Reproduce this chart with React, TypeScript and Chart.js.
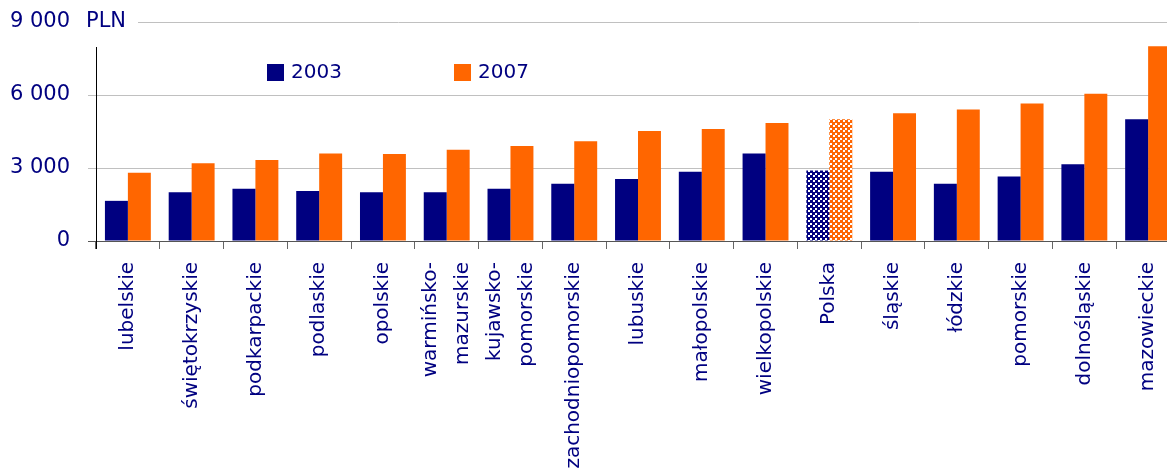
import React, { useEffect, useRef } from "react";
import { Chart, registerables } from "chart.js";

Chart.register(...registerables);

const categories: string[][] = [
  ["lubelskie"],
  ["świętokrzyskie"],
  ["podkarpackie"],
  ["podlaskie"],
  ["opolskie"],
  ["warmińsko-", "mazurskie"],
  ["kujawsko-", "pomorskie"],
  ["zachodniopomorskie"],
  ["lubuskie"],
  ["małopolskie"],
  ["wielkopolskie"],
  ["Polska"],
  ["śląskie"],
  ["łódzkie"],
  ["pomorskie"],
  ["dolnośląskie"],
  ["mazowieckie"],
];

const values2003: number[] = [1650, 2000, 2150, 2050, 2000, 2000, 2150, 2350, 2550, 2850, 3600, 2900, 2850, 2350, 2650, 3150, 5000];
const values2007: number[] = [2800, 3200, 3330, 3600, 3580, 3750, 3900, 4100, 4520, 4600, 4850, 5000, 5250, 5400, 5650, 6050, 8000];

const seriesNames: string[] = ["2003", "2007"];
const yTicks: number[] = [0, 3000, 6000, 9000];
const unitLabel = "PLN";
const highlightCategory = "Polska";

const NAVY = "#000080";
const ORANGE = "#FF6600";
const TEXT = "#000080";
const FONT = "'DejaVu Sans', Verdana, sans-serif";

function makePattern(color: string): CanvasPattern | string {
  const c = document.createElement("canvas");
  c.width = 5;
  c.height = 5;
  const g = c.getContext("2d");
  if (!g) return color;
  g.fillStyle = color;
  g.fillRect(0, 0, 5, 5);
  g.fillStyle = "#ffffff";
  g.fillRect(3, 0, 2, 2);
  g.fillRect(0, 3, 2, 2);
  const p = g.createPattern(c, "repeat");
  return p || color;
}

function fmt(v: number): string {
  const s = String(v);
  return s.replace(/\B(?=(\d{3})+(?!\d))/g, " ");
}

export default function App() {
  const ref = useRef<HTMLCanvasElement | null>(null);

  useEffect(() => {
    if (!ref.current) return;
    const navyPat = makePattern(NAVY);
    const orangePat = makePattern(ORANGE);
    const labels = categories.map((c) => c.join(" "));
    const hi = labels.indexOf(highlightCategory);

    const overlay = {
      id: "overlay",
      afterDraw(chart: any) {
        const ctx = chart.ctx as CanvasRenderingContext2D;
        const x = chart.scales.x;
        const y = chart.scales.y;
        const area = chart.chartArea;
        ctx.save();
        const yTop = y.getPixelForValue(9000);
        ctx.strokeStyle = "#c0c0c0";
        ctx.lineWidth = 1;
        ctx.beginPath();
        ctx.moveTo(138, Math.round(yTop) + 0.5);
        ctx.lineTo(chart.width, Math.round(yTop) + 0.5);
        ctx.stroke();
        ctx.fillStyle = TEXT;
        ctx.font = `21px ${FONT}`;
        ctx.textAlign = "left";
        ctx.textBaseline = "middle";
        ctx.fillText(unitLabel, 86, yTop);
        ctx.strokeStyle = "#000000";
        ctx.beginPath();
        ctx.moveTo(Math.round(area.left) + 0.5, 47);
        ctx.lineTo(Math.round(area.left) + 0.5, area.bottom + 8);
        ctx.stroke();
        const legendItems = [
          { x: 267, color: NAVY, text: seriesNames[0] },
          { x: 454, color: ORANGE, text: seriesNames[1] },
        ];
        ctx.font = `20px ${FONT}`;
        for (const it of legendItems) {
          ctx.fillStyle = it.color;
          ctx.fillRect(it.x, 64, 17, 17);
          ctx.fillStyle = TEXT;
          ctx.fillText(it.text, it.x + 24, 73);
        }
        ctx.font = `20px ${FONT}`;
        ctx.textAlign = "right";
        ctx.textBaseline = "middle";
        const lh = 32;
        categories.forEach((lines, i) => {
          const cx = x.getPixelForValue(i);
          ctx.save();
          ctx.translate(cx, area.bottom + 21);
          ctx.rotate(-Math.PI / 2);
          lines.forEach((ln, j) => {
            const off = (j - (lines.length - 1) / 2) * lh;
            ctx.fillText(ln, 0, off);
          });
          ctx.restore();
        });
        ctx.restore();
      },
    };

    const chart = new Chart(ref.current, {
      type: "bar",
      data: {
        labels,
        datasets: [
          {
            label: seriesNames[0],
            data: values2003,
            backgroundColor: values2003.map((_, i) => (i === hi ? navyPat : NAVY)) as any,
            borderWidth: 0,
          },
          {
            label: seriesNames[1],
            data: values2007,
            backgroundColor: values2007.map((_, i) => (i === hi ? orangePat : ORANGE)) as any,
            borderWidth: 0,
          },
        ],
      },
      options: {
        animation: false,
        responsive: false,
        maintainAspectRatio: false,
        layout: { autoPadding: false, padding: { top: 22, left: 0, right: 0, bottom: 0 } },
        datasets: { bar: { categoryPercentage: 0.72, barPercentage: 1 } },
        plugins: {
          legend: { display: false },
          tooltip: { enabled: false },
        },
        scales: {
          x: {
            afterFit(scale: any) {
              scale.height = 520 - 241;
            },
            ticks: { display: false },
            border: { display: true, color: "#555555", width: 1 },
            grid: {
              offset: true,
              drawOnChartArea: false,
              drawTicks: true,
              tickLength: 8,
              color: "#666666",
            },
          },
          y: {
            min: 0,
            max: 9000,
            afterFit(scale: any) {
              scale.width = 96;
              scale.paddingTop = 0;
              scale.paddingBottom = 0;
            },
            afterBuildTicks(scale: any) {
              scale.ticks = yTicks.map((v) => ({ value: v }));
            },
            border: { display: false },
            grid: {
              tickLength: 8,
              color: (c: any) =>
                c.tick && c.tick.value === 9000 ? "rgba(0,0,0,0)" : c.tick && c.tick.value === 0 ? "#555555" : "#c0c0c0",
              tickColor: (c: any) =>
                c.tick && c.tick.value === 9000 ? "rgba(0,0,0,0)" : c.tick && c.tick.value === 0 ? "#555555" : "#c0c0c0",
            },
            ticks: {
              padding: 18,
              color: TEXT,
              font: { family: FONT, size: 21 },
              callback: (v: any) => fmt(Number(v)),
            },
          },
        },
      },
      plugins: [overlay],
    });
    return () => chart.destroy();
  }, []);

  return (
    <div
      style={{
        position: "fixed",
        left: 0,
        top: 0,
        width: 1167,
        height: 475,
        overflow: "hidden",
        background: "#ffffff",
      }}
    >
      <canvas ref={ref} width={1180} height={520} style={{ display: "block", width: 1180, height: 520 }} />
    </div>
  );
}
